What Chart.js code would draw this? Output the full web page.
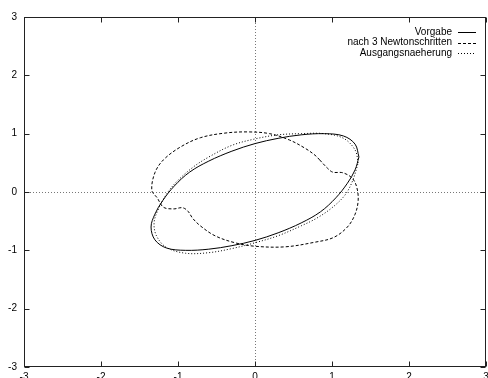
<!DOCTYPE html>
<html>
<head>
<meta charset="utf-8">
<script src="https://cdn.jsdelivr.net/npm/chart.js@4"></script>
<style>
html, body { margin: 0; padding: 0; background: #fff; overflow: hidden; }
</style>
</head>
<body>
<canvas id="kurven" width="488" height="392"></canvas>
<script>
// Werte
const tickWerte = [-3, -2, -1, 0, 1, 2, 3];

const vorgabeX = [1.35, 1.3, 1.15, 0.9, 0.6, 0.3, 0, -0.3, -0.6, -0.85, -1.05, -1.2, -1.3, -1.35, -1.3, -1.15, -0.9, -0.6, -0.3, 0, 0.3, 0.6, 0.85, 1.05, 1.2, 1.3, 1.35];
const vorgabeY = [0.6, 0.82, 0.96, 1.0, 0.98, 0.92, 0.83, 0.7, 0.53, 0.34, 0.1, -0.15, -0.38, -0.6, -0.82, -0.96, -1.0, -0.98, -0.92, -0.83, -0.7, -0.53, -0.34, -0.1, 0.15, 0.38, 0.6];

const newtonX = [0.84, 0.94, 1.01, 1.14, 1.26, 1.32, 1.34, 1.3, 1.2, 1.02, 0.78, 0.39, 0, -0.26, -0.52, -0.71, -0.81, -0.87, -0.94, -1.06, -1.19, -1.27, -1.34, -1.3, -1.19, -0.97, -0.71, -0.39, -0.09, 0.19, 0.45, 0.65, 0.78, 0.84];
const newtonY = [0.55, 0.41, 0.34, 0.33, 0.24, 0.09, -0.14, -0.38, -0.6, -0.78, -0.86, -0.94, -0.93, -0.87, -0.75, -0.58, -0.45, -0.33, -0.27, -0.29, -0.26, -0.1, 0.03, 0.33, 0.55, 0.77, 0.93, 1.01, 1.03, 1.0, 0.89, 0.75, 0.63, 0.55];

const startX = [1.34, 1.3, 1.15, 0.9, 0.6, 0.3, 0, -0.3, -0.6, -0.8, -1.0, -1.13, -1.25, -1.31, -1.28, -1.15, -0.9, -0.6, -0.3, 0, 0.3, 0.6, 0.8, 1.0, 1.17, 1.27, 1.34];
const startY = [0.5, 0.72, 0.92, 1.0, 1.0, 0.98, 0.91, 0.8, 0.6, 0.43, 0.2, 0.0, -0.28, -0.52, -0.75, -0.95, -1.05, -1.04, -0.97, -0.87, -0.75, -0.58, -0.45, -0.27, -0.05, 0.2, 0.5];

function punkte(xs, ys) {
    return xs.map((x, i) => ({ x: x, y: ys[i] }));
}

const schrift = { family: '"Liberation Sans", Arial, sans-serif', size: 10 };

// Rahmen, Nulllinien und Tickstriche nach innen (wie gnuplot)
const rahmen = {
    id: 'rahmen',
    beforeDatasetsDraw(chart) {
        const ctx = chart.ctx;
        const a = chart.chartArea;
        const sx = chart.scales.x, sy = chart.scales.y;
        ctx.save();
        ctx.lineWidth = 1;
        ctx.strokeStyle = '#777';
        ctx.setLineDash([1, 2]);
        const x0 = Math.round(sx.getPixelForValue(0)) + 0.5;
        const y0 = Math.round(sy.getPixelForValue(0)) + 0.5;
        ctx.beginPath();
        ctx.moveTo(x0, a.top); ctx.lineTo(x0, a.bottom);
        ctx.moveTo(a.left, y0); ctx.lineTo(a.right, y0);
        ctx.stroke();
        ctx.setLineDash([]);
        ctx.strokeStyle = '#222';
        const l = Math.round(a.left) + 0.5, r = Math.round(a.right) - 0.5;
        const t = Math.round(a.top) + 0.5, b = Math.round(a.bottom) - 0.5;
        ctx.strokeRect(l, t, r - l, b - t);
        ctx.beginPath();
        tickWerte.forEach(v => {
            const px = Math.round(sx.getPixelForValue(v)) + 0.5;
            ctx.moveTo(px, b); ctx.lineTo(px, b - 5);
            ctx.moveTo(px, t); ctx.lineTo(px, t + 5);
            const py = Math.round(sy.getPixelForValue(v)) + 0.5;
            ctx.moveTo(l, py); ctx.lineTo(l + 5, py);
            ctx.moveTo(r, py); ctx.lineTo(r - 5, py);
        });
        ctx.stroke();
        ctx.restore();
    },
    afterDraw(chart) {
        // Legende oben rechts, Text rechtsbuendig mit Linienmuster
        const ctx = chart.ctx;
        ctx.save();
        ctx.font = '10px "Liberation Sans", Arial, sans-serif';
        ctx.fillStyle = '#000';
        ctx.textAlign = 'right';
        ctx.textBaseline = 'middle';
        chart.data.datasets.forEach((ds, i) => {
            const y = 32 + i * 10.5;
            ctx.fillText(ds.label, 452, y);
            ctx.strokeStyle = '#000';
            ctx.lineWidth = 1;
            ctx.setLineDash(ds.borderDash || []);
            ctx.beginPath();
            ctx.moveTo(458, Math.round(y) + 0.5);
            ctx.lineTo(476, Math.round(y) + 0.5);
            ctx.stroke();
        });
        ctx.restore();
    }
};

const ctx = document.getElementById('kurven').getContext('2d');

new Chart(ctx, {
    type: 'scatter',
    data: {
        datasets: [
            { label: 'Vorgabe', data: punkte(vorgabeX, vorgabeY), borderDash: [] },
            { label: 'nach 3 Newtonschritten', data: punkte(newtonX, newtonY), borderDash: [3, 2] },
            { label: 'Ausgangsnaeherung', data: punkte(startX, startY), borderDash: [1, 2] }
        ].map(ds => Object.assign(ds, {
            showLine: true,
            borderColor: '#000',
            borderWidth: 1,
            pointRadius: 0,
            tension: 0.35,
            fill: false
        }))
    },
    options: {
        responsive: false,
        devicePixelRatio: 1,
        animation: false,
        layout: { padding: { top: 17, right: 2, left: 0, bottom: 0 } },
        plugins: {
            legend: { display: false },
            tooltip: { enabled: false }
        },
        scales: {
            x: {
                type: 'linear',
                min: -3,
                max: 3,
                afterBuildTicks: s => { s.ticks = tickWerte.map(v => ({ value: v })); },
                afterFit: s => { s.height = 25; s.paddingLeft = 0; s.paddingRight = 0; },
                grid: { display: false, drawTicks: false },
                border: { display: false },
                ticks: { color: '#000', font: schrift, padding: 4, maxRotation: 0, autoSkip: false }
            },
            y: {
                type: 'linear',
                min: -3,
                max: 3,
                afterBuildTicks: s => { s.ticks = tickWerte.map(v => ({ value: v })); },
                afterFit: s => { s.width = 24; s.paddingTop = 0; s.paddingBottom = 0; },
                grid: { display: false, drawTicks: false },
                border: { display: false },
                ticks: { color: '#000', font: schrift, padding: 7, autoSkip: false }
            }
        }
    },
    plugins: [rahmen]
});
</script>
</body>
</html>
